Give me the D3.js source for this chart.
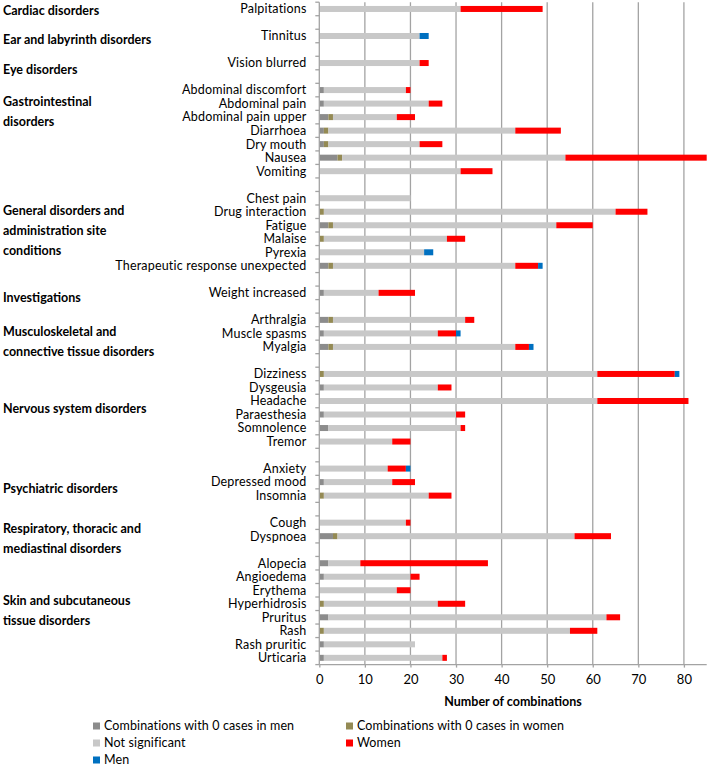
<!DOCTYPE html>
<html>
<head>
<meta charset="utf-8">
<script src="https://cdn.jsdelivr.net/npm/d3@7"></script>
<style>
  html, body { margin: 0; padding: 0; background: #fff; }
  svg { display: block; }
  text { font-family: Lato, "Open Sans", sans-serif; fill: #000; }
</style>
</head>
<body>
<svg id="chart" width="709" height="766"></svg>
<script>
// ---------------- DATA ----------------
const groupNames = [
  ["Cardiac disorders"],
  ["Ear and labyrinth disorders"],
  ["Eye disorders"],
  ["Gastrointestinal", "disorders"],
  ["General disorders and", "administration site", "conditions"],
  ["Investigations"],
  ["Musculoskeletal and", "connective tissue disorders"],
  ["Nervous system disorders"],
  ["Psychiatric disorders"],
  ["Respiratory, thoracic and", "mediastinal disorders"],
  ["Skin and subcutaneous", "tissue disorders"]
];

const terms = [
  "Palpitations",
  "Tinnitus",
  "Vision blurred",
  "Abdominal discomfort", "Abdominal pain", "Abdominal pain upper", "Diarrhoea", "Dry mouth", "Nausea", "Vomiting",
  "Chest pain", "Drug interaction", "Fatigue", "Malaise", "Pyrexia", "Therapeutic response unexpected",
  "Weight increased",
  "Arthralgia", "Muscle spasms", "Myalgia",
  "Dizziness", "Dysgeusia", "Headache", "Paraesthesia", "Somnolence", "Tremor",
  "Anxiety", "Depressed mood", "Insomnia",
  "Cough", "Dyspnoea",
  "Alopecia", "Angioedema", "Erythema", "Hyperhidrosis", "Pruritus", "Rash", "Rash pruritic", "Urticaria"
];

const termGroup = [
  0,
  1,
  2,
  3, 3, 3, 3, 3, 3, 3,
  4, 4, 4, 4, 4, 4,
  5,
  6, 6, 6,
  7, 7, 7, 7, 7, 7,
  8, 8, 8,
  9, 9,
  10, 10, 10, 10, 10, 10, 10, 10
];

const seriesNames = [
  "Combinations with 0 cases in men",
  "Combinations with 0 cases in women",
  "Not significant",
  "Women",
  "Men"
];

const zeroMen = [
  0,
  0,
  0,
  1, 1, 2, 1, 1, 4, 0,
  0, 0, 2, 0, 0, 2,
  1,
  2, 1, 2,
  0, 1, 0, 1, 2, 0,
  0, 1, 0,
  0, 3,
  2, 1, 0, 0, 2, 0, 1, 1
];

const zeroWomen = [
  0,
  0,
  0,
  0, 0, 1, 1, 1, 1, 0,
  0, 1, 1, 1, 0, 1,
  0,
  1, 0, 1,
  1, 0, 0, 0, 0, 0,
  0, 0, 1,
  0, 1,
  0, 0, 0, 1, 0, 1, 0, 0
];

const notSignificant = [
  31,
  22,
  22,
  18, 23, 14, 41, 20, 49, 31,
  20, 64, 49, 27, 23, 40,
  12,
  29, 25, 40,
  60, 25, 61, 29, 29, 16,
  15, 15, 23,
  19, 52,
  7, 19, 17, 25, 61, 54, 20, 26
];

const women = [
  18,
  0,
  2,
  1, 3, 4, 10, 5, 31, 7,
  0, 7, 8, 4, 0, 5,
  8,
  2, 4, 3,
  17, 3, 20, 2, 1, 4,
  4, 5, 5,
  1, 8,
  28, 2, 3, 6, 3, 6, 0, 1
];

const men = [
  0,
  2,
  0,
  0, 0, 0, 0, 0, 0, 0,
  0, 0, 0, 0, 2, 1,
  0,
  0, 1, 1,
  1, 0, 0, 0, 0, 0,
  1, 0, 0,
  0, 0,
  0, 0, 0, 0, 0, 0, 0, 0
];

const xTicks = [0, 10, 20, 30, 40, 50, 60, 70, 80];
const xTitle = "Number of combinations";

// ---------------- LAYOUT ----------------
const colors = ["#8c8c8c", "#948a54", "#c8c8c8", "#ff0000", "#0070c0"];
const plot = { left: 319.3, right: 706.7, top: 2.2, bottom: 664.6 };
const xMax = 85;

// build rows: terms with a blank spacer row between groups
const rows = [];
terms.forEach((t, i) => {
  if (i > 0 && termGroup[i] !== termGroup[i - 1]) rows.push({ id: "spacer" + i, label: "", idx: -1 });
  rows.push({ id: "t" + i, label: t, idx: i });
});

const svg = d3.select("#chart");

const x = d3.scaleLinear().domain([0, xMax]).range([plot.left, plot.right]);
const y = d3.scaleBand()
  .domain(rows.map(r => r.id))
  .range([plot.top, plot.bottom])
  .paddingInner(0.556)
  .paddingOuter(0.278);

// gridlines
svg.append("g")
  .selectAll("line")
  .data(xTicks.filter(d => d > 0))
  .join("line")
  .attr("x1", d => x(d)).attr("x2", d => x(d))
  .attr("y1", plot.top).attr("y2", plot.bottom)
  .attr("stroke", "#a3a3a3")
  .attr("stroke-width", 1.3);

// stacked bars
const seriesData = [zeroMen, zeroWomen, notSignificant, women, men];
const stackRows = terms.map((t, i) => {
  const o = { id: "t" + i };
  seriesNames.forEach((s, k) => { o[s] = seriesData[k][i]; });
  return o;
});
const stack = d3.stack().keys(seriesNames)(stackRows);

svg.append("g")
  .selectAll("g")
  .data(stack)
  .join("g")
  .attr("fill", (d, k) => colors[k])
  .selectAll("rect")
  .data(d => d.filter(v => v[1] > v[0]))
  .join("rect")
  .attr("x", d => x(d[0]))
  .attr("width", d => x(d[1]) - x(d[0]))
  .attr("y", d => y(d.data.id))
  .attr("height", y.bandwidth());

// x axis
const xAxis = d3.axisBottom(x).tickValues(xTicks).tickSize(3).tickSizeOuter(0);
const gx = svg.append("g")
  .attr("transform", `translate(0,${plot.bottom})`)
  .call(xAxis);
gx.select(".domain").attr("stroke", "#a3a3a3").attr("stroke-width", 1.3)
  .attr("d", `M${plot.left},0H${plot.right}`);
gx.selectAll(".tick line").attr("stroke", "#a3a3a3").attr("stroke-width", 1.3);
gx.selectAll(".tick text")
  .attr("font-family", "Lato, sans-serif")
  .attr("font-size", 13)
  .attr("dy", 0)
  .attr("y", 19)
  .attr("fill", "#000");

// y axis line and ticks at every row boundary
const step = y.step();
const boundaries = d3.range(rows.length + 1).map(i => plot.top + i * step);
svg.append("g")
  .selectAll("line")
  .data(boundaries)
  .join("line")
  .attr("x1", plot.left - 4).attr("x2", plot.left)
  .attr("y1", d => d).attr("y2", d => d)
  .attr("stroke", "#a3a3a3").attr("stroke-width", 1.3);
svg.append("line")
  .attr("x1", plot.left).attr("x2", plot.left)
  .attr("y1", plot.top).attr("y2", plot.bottom)
  .attr("stroke", "#a3a3a3").attr("stroke-width", 1.3);

// term labels
svg.append("g")
  .selectAll("text")
  .data(rows.filter(r => r.idx >= 0))
  .join("text")
  .attr("x", 306.5)
  .attr("y", d => y(d.id) + y.bandwidth() / 2)
  .attr("dy", "0.35em")
  .attr("text-anchor", "end")
  .attr("font-size", 12.5)
  .attr("letter-spacing", 0.18)
  .text(d => d.label);

// group labels (hand placed text boxes, as in the original)
const groupLabelY = [10.5, 40, 69.5, 102, 211, 297.5, 332, 409, 489, 529, 601];
const gl = svg.append("g")
  .selectAll("text")
  .data(groupNames)
  .join("text")
  .attr("x", 3)
  .attr("y", (d, i) => groupLabelY[i])
  .attr("font-size", 12.5)
  .attr("font-weight", "bold");
gl.selectAll("tspan")
  .data(d => d)
  .join("tspan")
  .attr("x", 3)
  .attr("dy", (d, j) => j === 0 ? "0.35em" : "20")
  .text(d => d);

// x axis title
svg.append("text")
  .attr("x", (plot.left + plot.right) / 2)
  .attr("y", 702)
  .attr("dy", "0.35em")
  .attr("text-anchor", "middle")
  .attr("font-size", 12.5)
  .attr("font-weight", "bold")
  .text(xTitle);

// legend
const legendPos = [
  { x: 93, y: 726 },
  { x: 346, y: 726 },
  { x: 93, y: 743 },
  { x: 346, y: 743 },
  { x: 93, y: 760 }
];
const lg = svg.append("g")
  .selectAll("g")
  .data(seriesNames)
  .join("g")
  .attr("transform", (d, i) => `translate(${legendPos[i].x},${legendPos[i].y})`);
lg.append("rect")
  .attr("x", 0).attr("y", -3.5)
  .attr("width", 7).attr("height", 7)
  .attr("fill", (d, i) => colors[i]);
lg.append("text")
  .attr("x", 11)
  .attr("y", 0)
  .attr("dy", "0.35em")
  .attr("font-size", 12.5)
  .attr("letter-spacing", 0.12)
  .text(d => d);
</script>
</body>
</html>
